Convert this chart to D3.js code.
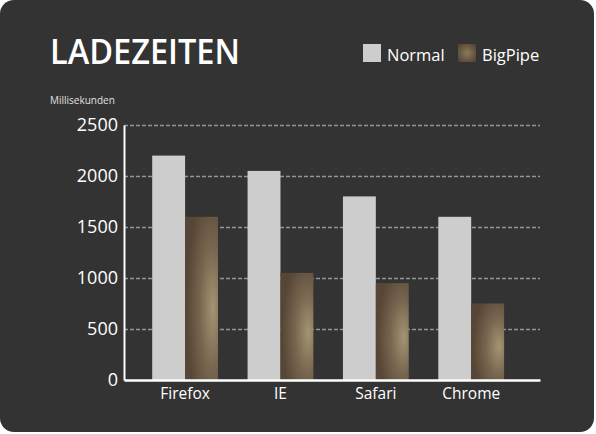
<!DOCTYPE html>
<html>
<head>
<meta charset="utf-8">
<script src="https://cdn.jsdelivr.net/npm/d3@7"></script>
<style>
  html, body { margin: 0; padding: 0; background: #ffffff; }
  svg { display: block; }
</style>
</head>
<body>
<script>
// Ladezeiten: Normal vs BigPipe (Millisekunden)
var browsers = ['Firefox', 'IE', 'Safari', 'Chrome'];
var seriesNames = ['Normal', 'BigPipe'];
var normalValues = [2200, 2050, 1800, 1600];
var bigPipeValues = [1600, 1050, 950, 750];
var yTicks = [0, 500, 1000, 1500, 2000, 2500];

var width = 596, height = 434;
var margin = { top: 125, right: 56, bottom: 54, left: 124 };

var svg = d3.select('body').append('svg')
  .attr('width', width).attr('height', height);

// gradient for the BigPipe bars
var defs = svg.append('defs');
var grad = defs.append('radialGradient')
  .attr('id', 'bigpipeGrad')
  .attr('cx', 0.8).attr('cy', 0.56).attr('r', 0.75)
  .attr('fx', 0.85).attr('fy', 0.56);
grad.append('stop').attr('offset', '0%').attr('stop-color', '#a49573');
grad.append('stop').attr('offset', '50%').attr('stop-color', '#786650');
grad.append('stop').attr('offset', '100%').attr('stop-color', '#574635');

var legendGrad = defs.append('radialGradient')
  .attr('id', 'legendGrad')
  .attr('cx', 0.5).attr('cy', 0.5).attr('r', 0.7);
legendGrad.append('stop').attr('offset', '0%').attr('stop-color', '#8a7a5c');
legendGrad.append('stop').attr('offset', '100%').attr('stop-color', '#4e3f30');

// card background
svg.append('rect')
  .attr('x', 0).attr('y', 0)
  .attr('width', width - 2).attr('height', height - 2)
  .attr('rx', 14).attr('ry', 14)
  .attr('fill', '#333333');

var plotW = width - margin.left - margin.right;
var plotH = height - margin.top - margin.bottom;

var canvas = svg.append('g')
  .attr('transform', 'translate(' + margin.left + ',' + margin.top + ')');

var yScale = d3.scaleLinear().domain([0, 2500]).range([plotH, 0]);

var xScale = d3.scaleBand()
  .domain(browsers)
  .range([0, plotW])
  .paddingInner(0.31)
  .paddingOuter(0.336)
  .align(0.44);

var xSub = d3.scaleBand()
  .domain(seriesNames)
  .range([0, xScale.bandwidth()]);

// grid
var yGrid = d3.axisLeft(yScale)
  .tickValues(yTicks.slice(1))
  .tickSize(-plotW)
  .tickFormat('');
canvas.append('g')
  .attr('class', 'grid')
  .call(yGrid)
  .call(function(g) {
    g.select('.domain').remove();
    g.selectAll('line')
      .attr('stroke', '#959595')
      .attr('stroke-width', 1.3)
      .attr('stroke-dasharray', '4,2');
  });

// bars
var rows = browsers.map(function(b, i) {
  return { browser: b, Normal: normalValues[i], BigPipe: bigPipeValues[i] };
});

var groups = canvas.selectAll('.group')
  .data(rows)
  .enter().append('g')
  .attr('class', 'group')
  .attr('transform', function(d) { return 'translate(' + xScale(d.browser) + ',0)'; });

groups.selectAll('rect')
  .data(function(d) { return seriesNames.map(function(s) { return { key: s, value: d[s] }; }); })
  .enter().append('rect')
  .attr('x', function(d) { return xSub(d.key); })
  .attr('width', xSub.bandwidth())
  .attr('y', function(d) { return yScale(d.value); })
  .attr('height', function(d) { return plotH - yScale(d.value); })
  .attr('fill', function(d) { return d.key === 'Normal' ? '#cdcdcd' : 'url(#bigpipeGrad)'; });

// y axis
var yAxis = d3.axisLeft(yScale)
  .tickValues(yTicks)
  .tickFormat(d3.format('d'))
  .tickSize(0)
  .tickPadding(6);
canvas.append('g')
  .call(yAxis)
  .call(function(g) {
    g.select('.domain')
      .attr('stroke', '#ffffff')
      .attr('stroke-width', 2);
    g.selectAll('text')
      .attr('fill', '#ffffff')
      .attr('font-family', '"Open Sans", sans-serif')
      .attr('font-size', 18);
  });

// x axis
var xAxis = d3.axisBottom(xScale).tickSize(0).tickPadding(8);
canvas.append('g')
  .attr('transform', 'translate(0,' + plotH + ')')
  .call(xAxis)
  .call(function(g) {
    g.select('.domain')
      .attr('stroke', '#ffffff')
      .attr('stroke-width', 2.5);
    g.selectAll('text')
      .attr('fill', '#ffffff')
      .attr('font-family', '"Open Sans", sans-serif')
      .attr('font-size', 15.5);
  });

// title
svg.append('text')
  .attr('x', 50).attr('y', 64)
  .attr('fill', '#ffffff')
  .attr('font-family', '"Open Sans", sans-serif')
  .attr('font-weight', 600)
  .attr('font-size', 34)
  .attr('textLength', 190)
  .attr('lengthAdjust', 'spacingAndGlyphs')
  .text('LADEZEITEN');

svg.append('text')
  .attr('x', 50).attr('y', 104)
  .attr('fill', '#e0e0e0')
  .attr('font-family', '"Open Sans", sans-serif')
  .attr('font-size', 10)
  .text('Millisekunden');

// legend
var legendX = [363, 458];
var legend = svg.selectAll('.legend')
  .data(seriesNames)
  .enter().append('g')
  .attr('class', 'legend')
  .attr('transform', function(d, i) { return 'translate(' + legendX[i] + ',44)'; });
legend.append('rect')
  .attr('width', 18).attr('height', 18)
  .attr('fill', function(d) { return d === 'Normal' ? '#cdcdcd' : 'url(#legendGrad)'; });
legend.append('text')
  .attr('x', 24).attr('y', 17)
  .attr('fill', '#ffffff')
  .attr('font-family', '"Open Sans", sans-serif')
  .attr('font-size', 16.5)
  .text(function(d) { return d; });
</script>
</body>
</html>
